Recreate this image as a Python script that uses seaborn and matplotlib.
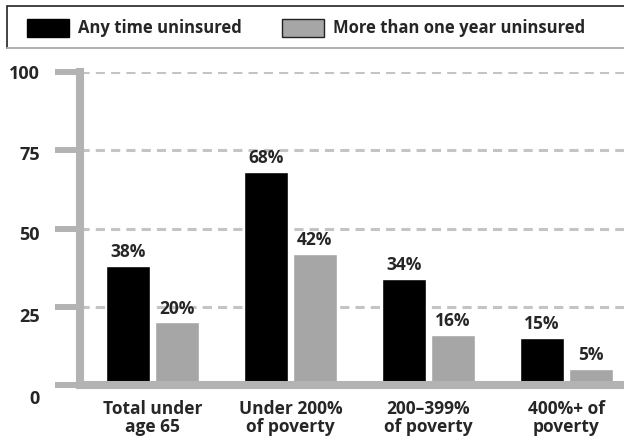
import pandas as pd
import matplotlib
matplotlib.use("Agg")
import matplotlib.pyplot as plt
import matplotlib.transforms as mtrans
from matplotlib.patches import Patch, Rectangle
from matplotlib.lines import Line2D
import seaborn as sns

# data
categories = ["Total under\nage 65", "Under 200%\nof poverty", "200\u2013399%\nof poverty", "400%+ of\npoverty"]
groups = ["Any time uninsured", "More than one year uninsured"]
any_time = [38, 68, 34, 15]
over_year = [20, 42, 16, 5]
yticks = [0, 25, 50, 75, 100]

BLACK = "#000000"
GREY = "#a6a6a6"
AXIS = "#b3b3b3"
GRID = "#c4c4c4"

df = pd.DataFrame({
    "category": categories * 2,
    "group": [groups[0]] * 4 + [groups[1]] * 4,
    "value": any_time + over_year,
})

sns.set_theme(style="white")
plt.rcParams["font.family"] = ["Open Sans", "DejaVu Sans"]
plt.rcParams["font.weight"] = "bold"

fig = plt.figure(figsize=(6.24, 4.42), dpi=100)
ax = fig.add_axes([80 / 624, 57 / 442, 1 - 80 / 624, 313 / 442])

sns.barplot(data=df, x="category", y="value", hue="group", palette=[BLACK, GREY],
            width=0.71, gap=0.1, ax=ax, legend=False, saturation=1)

for cont in ax.containers:
    ax.bar_label(cont, labels=[f"{int(v)}%" for v in cont.datavalues],
                 padding=3.5, fontsize=12.5, fontweight="bold")

ax.set_ylim(0, 100)
ax.set_xlim(-0.526, 3.42)
ax.set_yticks(yticks)
ax.set_xlabel("")
ax.set_ylabel("")

ax.yaxis.grid(True, color=GRID, linestyle=(0, (3, 2)), linewidth=2.2)
ax.set_axisbelow(True)

for side in ["top", "right"]:
    ax.spines[side].set_visible(False)
ax.spines["left"].set_color(AXIS)
ax.spines["left"].set_linewidth(5.8)
ax.spines["left"].set_bounds(0, 100)
ax.spines["bottom"].set_color(AXIS)
ax.spines["bottom"].set_linewidth(5.8)

ax.tick_params(axis="y", left=True, length=18, width=4.3, color=AXIS, pad=11, labelsize=13)
ax.tick_params(axis="x", bottom=False, length=0, pad=11, labelsize=12.5)
for lab in ax.get_xticklabels():
    lab.set_fontweight("bold")
    lab.set_linespacing(0.95)

# nudge the y labels down a little, as in the original
shifts = [12, 8, 5, 3, 0]
for lab, s in zip(ax.get_yticklabels(), shifts):
    lab.set_fontweight("bold")
    lab.set_transform(lab.get_transform() + mtrans.ScaledTranslation(0, -s / 100, fig.dpi_scale_trans))

# legend box across the top
fig.patches.append(Rectangle((7 / 624, 1 - 48 / 442), 1.0, 42 / 442, transform=fig.transFigure,
                             facecolor="white", edgecolor="#222222", linewidth=1.2))
fig.lines.append(Line2D([7 / 624, 1], [1 - 48 / 442] * 2, transform=fig.transFigure,
                        color="#c8c8c8", linewidth=1.2))
handles = [Patch(facecolor=BLACK, edgecolor=BLACK),
           Patch(facecolor=GREY, edgecolor="#222222", linewidth=1)]
fig.legend(handles, groups, loc="center left", bbox_to_anchor=(27 / 624, 1 - 28 / 442),
           ncol=2, frameon=False, borderpad=0, borderaxespad=0,
           handlelength=2.5, handleheight=1.3, handletextpad=0.55, columnspacing=2.45,
           prop={"weight": "bold", "size": 12})

fig.savefig("out.png", dpi=100)
